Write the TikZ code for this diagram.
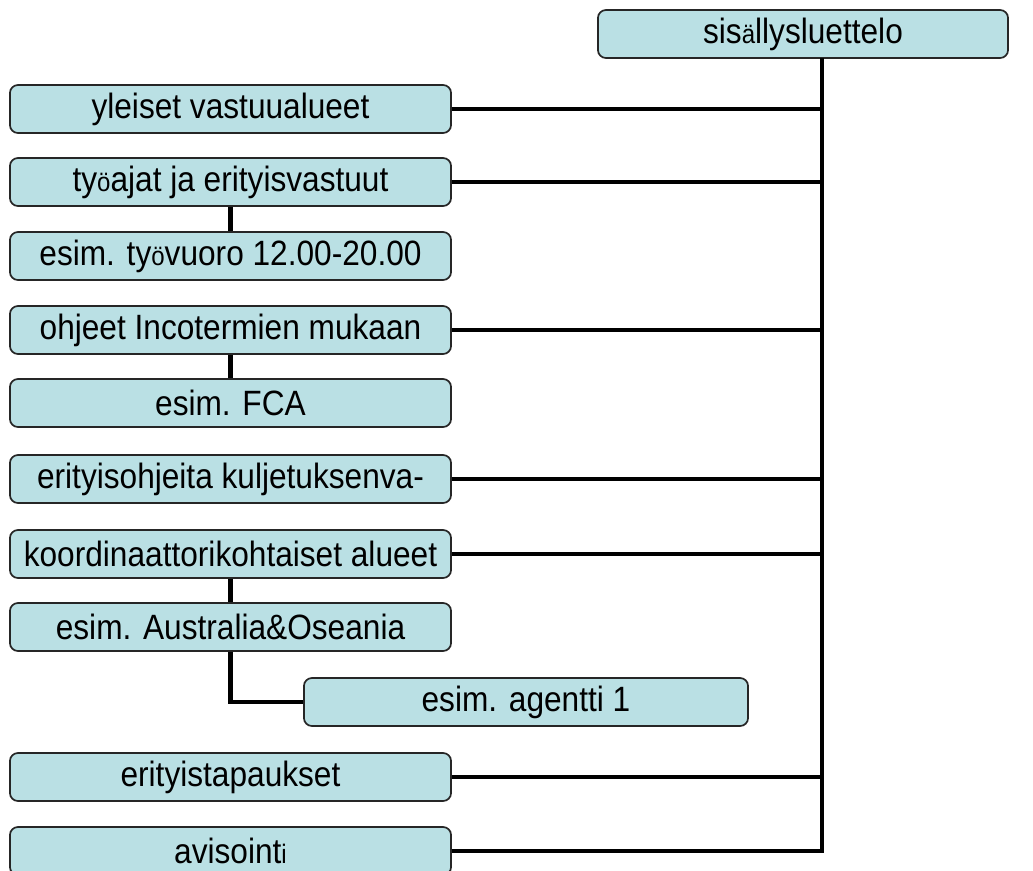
\documentclass[tikz,border=0pt]{standalone}
\usepackage{fontspec}
\setmainfont[FakeStretch=0.9]{Liberation Sans}
\definecolor{boxcyan}{RGB}{186,224,228}
\newcommand{\smallch}[1]{{\fontsize{19}{23}\selectfont #1}}

\begin{document}
\begin{tikzpicture}[x=0.025cm, y=-0.025cm]
    \tikzstyle{box}=[draw=black!85, line width=1.2pt, rounded corners=0.2cm, fill=boxcyan, minimum height=1.2cm, inner sep=0pt, font=\fontsize{25}{29}\selectfont]
    \tikzstyle{main box}=[box, minimum width=11.025cm]
    \tikzstyle{sub box}=[box, minimum width=11.025cm]
    \tikzstyle{link}=[draw=black, line width=3.5pt]

    \useasboundingbox (0,0) rectangle (1033,870);

    \node[box, minimum width=10.25cm] (toc) at (803,34) {sis\smallch{ä}llysluettelo};
    \coordinate (trunk) at (822,58);

    % Draw the main topics on the left
    \foreach \name / \y / \txt in {1/109/yleiset vastuualueet,
        2/182/ty\smallch{ö}ajat ja erityisvastuut,
        3/330/ohjeet Incotermien mukaan,
        4/479/erityisohjeita kuljetuksenva-,
        5/554/koordinaattorikohtaiset alueet,
        6/777/erityistapaukset,
        7/851/avisoint\smallch{i}}
        \node[main box] (M-\name) at (230.5,\y) {\txt};

    % Draw the examples under the topics
    \node[sub box] (S-1) at (230.5,256) {esim. ty\smallch{ö}vuoro 12.00-20.00};
    \node[sub box] (S-2) at (230.5,403) {esim. FCA};
    \node[sub box] (S-3) at (230.5,627) {esim. Australia\&Oseania};
    \node[sub box, minimum width=11.1cm] (agent) at (526,702) {esim. agentti 1};

    % Connect every main topic to the trunk
    \draw[link] (trunk) |- (M-7.east);
    \foreach \name in {1,...,6}
        \draw[link] (M-\name.east) -- (M-\name.east -| trunk);

    % Connect the examples
    \draw[link] (M-2.south) -- (S-1.north);
    \draw[link] (M-3.south) -- (S-2.north);
    \draw[link] (M-5.south) -- (S-3.north);
    \draw[link] (S-3.south) |- (agent.west);
\end{tikzpicture}
\end{document}
